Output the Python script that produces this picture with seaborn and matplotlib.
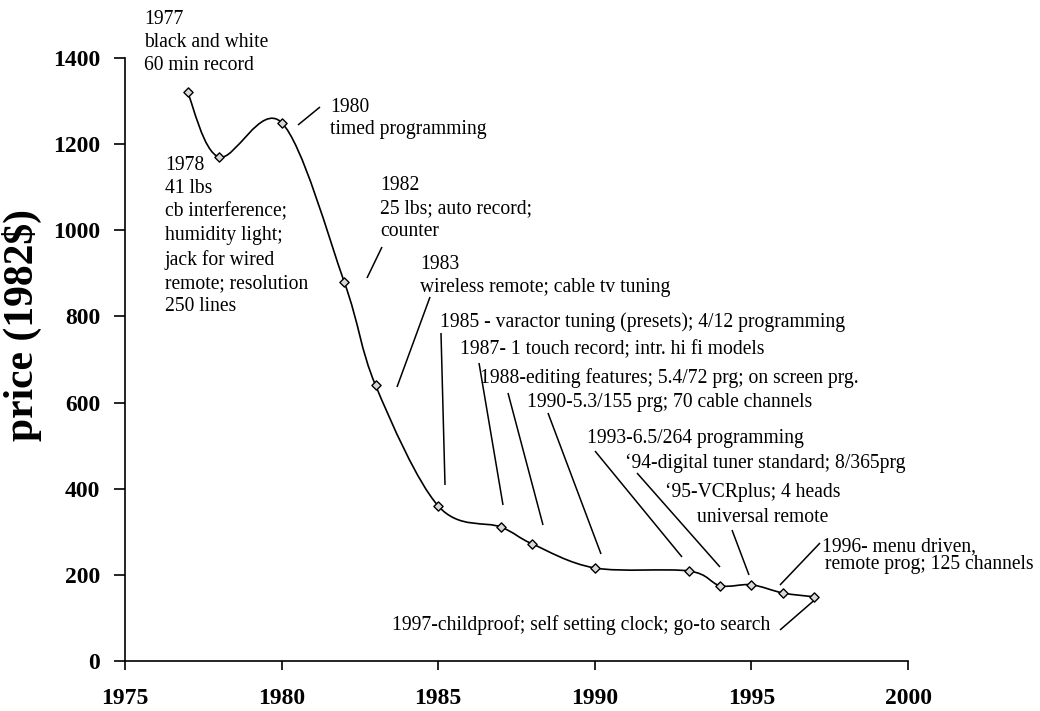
import numpy as np
import pandas as pd
import matplotlib
matplotlib.use("Agg")
import matplotlib.pyplot as plt
from matplotlib.path import Path
from matplotlib.patches import PathPatch
import seaborn as sns

# ---- data ----
years = [1977, 1978, 1980, 1982, 1983, 1985, 1987, 1988, 1990, 1993, 1994, 1995, 1996, 1997]
prices = [1320, 1170, 1250, 880, 640, 360, 311, 272, 216, 209, 175, 177, 158, 149]
x_ticks = [1975, 1980, 1985, 1990, 1995, 2000]
y_ticks = [0, 200, 400, 600, 800, 1000, 1200, 1400]
y_label = "price (1982$)"

df = pd.DataFrame({"year": years, "price": prices})

sns.set_style("ticks")
plt.rcParams["font.family"] = ["Liberation Serif", "DejaVu Serif"]
plt.rcParams["text.color"] = "black"
plt.rcParams["axes.labelcolor"] = "black"
plt.rcParams["xtick.color"] = "black"
plt.rcParams["ytick.color"] = "black"
plt.rcParams["axes.edgecolor"] = "black"

W, H = 1040, 711
fig = plt.figure(figsize=(W / 100, H / 100), dpi=100)
AX_L, AX_R, AX_B, AX_T = 125, 908, 661, 58
ax = fig.add_axes([AX_L / W, (H - AX_B) / H, (AX_R - AX_L) / W, (AX_B - AX_T) / H])
ax.set_xlim(1975, 2000)
ax.set_ylim(0, 1400)


def P(px, py):
    """pixel position in the figure -> data coordinates"""
    return (1975 + (px - AX_L) * 25 / (AX_R - AX_L), (AX_B - py) * 1400 / (AX_B - AX_T))


# smoothed line (Catmull-Rom style Bezier, like a spreadsheet "smoothed line")
pts = np.column_stack([df["year"].to_numpy(float), df["price"].to_numpy(float)])
verts = [tuple(pts[0])]
codes = [Path.MOVETO]
n = len(pts)
for i in range(n - 1):
    p0 = pts[max(i - 1, 0)]
    p1 = pts[i]
    p2 = pts[i + 1]
    p3 = pts[min(i + 2, n - 1)]
    c1 = p1 + (p2 - p0) / 6
    c2 = p2 - (p3 - p1) / 6
    verts += [tuple(c1), tuple(c2), tuple(p2)]
    codes += [Path.CURVE4] * 3
ax.add_patch(PathPatch(Path(verts, codes), facecolor="none", edgecolor="black", lw=1.2, zorder=2))

sns.scatterplot(data=df, x="year", y="price", marker="D", s=22, color="#d8d8d8",
                edgecolor="black", linewidth=1.0, zorder=3, ax=ax, legend=False)

# axes styling
for s in ["top", "right"]:
    ax.spines[s].set_visible(False)
for s in ["left", "bottom"]:
    ax.spines[s].set_color("black")
    ax.spines[s].set_linewidth(1.2)
ax.set_xticks(x_ticks)
ax.set_yticks(y_ticks)
ax.set_xticklabels([str(v) for v in x_ticks], fontsize=17, fontweight="bold")
ax.set_yticklabels([str(v) for v in y_ticks], fontsize=17, fontweight="bold")
ax.tick_params(axis="y", direction="out", length=8, width=1.2, pad=10, color="black")
ax.tick_params(axis="x", direction="out", length=6.5, width=1.2, pad=13, color="black")
ax.set_xlabel("")
ax.set_ylabel(y_label, fontsize=30, fontweight="bold")
ax.yaxis.set_label_coords((42 - AX_L) / (AX_R - AX_L), (AX_B - 325) / (AX_B - AX_T))

FS = 14.1
LH_FACTOR = 0.925  # actual line pitch relative to font size * linespacing

# annotations: (text, left px, first-line centre px, line pitch px)
notes = [
    ("1977\nblack and white\n60 min record", 144, 17, 23.5),
    ("1978\n41 lbs\ncb interference;\nhumidity light;\njack for wired\nremote; resolution\n250 lines", 165, 163, 23.7),
    ("1980\ntimed programming", 330, 105, 23.0),
    ("1982\n25 lbs; auto record;\ncounter", 380, 183, 23.5),
    ("1983\nwireless remote; cable tv tuning", 420, 262, 24.0),
    ("1985 - varactor tuning (presets); 4/12 programming", 440, 322, 0),
    ("1987- 1 touch record; intr. hi fi models", 460, 350, 0),
    ("1988-editing features; 5.4/72 prg; on screen prg.", 480, 378, 0),
    ("1990-5.3/155 prg; 70 cable channels", 527, 403, 0),
    ("1993-6.5/264 programming", 587, 438, 0),
    ("\u201894-digital tuner standard; 8/365prg", 625, 463, 0),
    ("\u201895-VCRplus; 4 heads", 665, 492, 0),
    ("universal remote", 697, 517, 0),
    ("1996- menu driven,", 822, 547, 0),
    ("remote prog; 125 channels", 825, 565, 0),
]
fs_px = FS * 100 / 72
for txt, lx, cy, pitch in notes:
    nlines = txt.count("\n") + 1
    if nlines > 1:
        ls = pitch / (fs_px * LH_FACTOR)
        x, y = P(lx, cy + 2 + (nlines - 1) * pitch / 2)
    else:
        ls = 1.2
        x, y = P(lx, cy)
    ax.text(x, y, txt, fontsize=FS, ha="left", va="center", linespacing=ls)

x, y = P(770, 625)
ax.text(x, y, "1997-childproof; self setting clock; go-to search", fontsize=FS,
        ha="right", va="center")

# leader lines (pixel endpoints)
leaders = [
    ((298, 125), (320, 107)),
    ((367, 278), (382, 247)),
    ((397, 387), (430, 297)),
    ((441, 333), (445, 485)),
    ((479, 363), (503, 505)),
    ((508, 393), (543, 525)),
    ((548, 413), (601, 554)),
    ((595, 451), (682, 557)),
    ((637, 473), (720, 567)),
    ((732, 530), (749, 575)),
    ((780, 585), (820, 543)),
    ((780, 630), (818, 597)),
]
for a, b in leaders:
    xa, ya = P(*a)
    xb, yb = P(*b)
    ax.plot([xa, xb], [ya, yb], color="black", lw=1.1, solid_capstyle="butt")

fig.savefig("out.png", dpi=100)
